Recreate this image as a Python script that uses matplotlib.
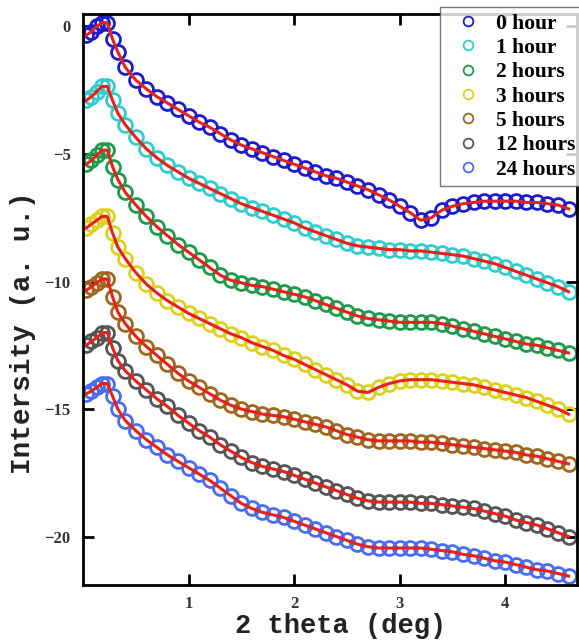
import matplotlib
matplotlib.use("Agg")
import matplotlib.pyplot as plt

# shared 2-theta positions (deg)
theta = [0.03, 0.08, 0.13, 0.18, 0.23, 0.28, 0.33, 0.4, 0.5, 0.6, 0.7, 0.8, 0.9, 1.0,
         1.1, 1.2, 1.3, 1.4, 1.5, 1.6, 1.7, 1.8, 1.9, 2.0, 2.1, 2.2, 2.3, 2.4, 2.5, 2.6,
         2.7, 2.8, 2.9, 3.0, 3.1, 3.2, 3.3, 3.4, 3.5, 3.6, 3.7, 3.8, 3.9, 4.0, 4.1, 4.2,
         4.3, 4.4, 4.5, 4.6]

h0 = [-0.35, -0.2, 0.0, 0.15, 0.15, -0.5, -1.0, -1.6, -2.1, -2.45, -2.75, -3.0, -3.25, -3.5,
      -3.75, -3.95, -4.2, -4.45, -4.65, -4.8, -4.95, -5.1, -5.25, -5.4, -5.55, -5.7, -5.85,
      -5.95, -6.1, -6.25, -6.4, -6.6, -6.8, -7.05, -7.3, -7.6, -7.5, -7.2, -7.05, -6.95,
      -6.9, -6.85, -6.85, -6.85, -6.85, -6.9, -6.9, -6.95, -7.0, -7.15]
h1 = [-2.9, -2.75, -2.55, -2.35, -2.35, -2.9, -3.4, -3.85, -4.35, -4.8, -5.15, -5.45, -5.7,
      -5.95, -6.15, -6.35, -6.55, -6.75, -6.95, -7.1, -7.25, -7.4, -7.55, -7.7, -7.9, -8.05,
      -8.2, -8.35, -8.5, -8.6, -8.65, -8.7, -8.75, -8.75, -8.8, -8.8, -8.85, -8.9, -8.95,
      -9.0, -9.1, -9.2, -9.3, -9.45, -9.6, -9.75, -9.9, -10.05, -10.2, -10.4]
h2 = [-5.4, -5.25, -5.05, -4.85, -4.85, -5.5, -6.0, -6.5, -7.0, -7.45, -7.85, -8.2, -8.55,
      -8.85, -9.15, -9.45, -9.75, -9.95, -10.05, -10.15, -10.2, -10.3, -10.4, -10.5, -10.6,
      -10.75, -10.9, -11.05, -11.2, -11.35, -11.45, -11.5, -11.55, -11.6, -11.6, -11.6,
      -11.6, -11.65, -11.75, -11.85, -11.95, -12.05, -12.15, -12.25, -12.35, -12.45, -12.5,
      -12.6, -12.7, -12.8]
h3 = [-7.9, -7.75, -7.6, -7.45, -7.45, -8.1, -8.65, -9.1, -9.65, -10.1, -10.45, -10.75, -11.0,
      -11.25, -11.45, -11.65, -11.85, -12.05, -12.2, -12.4, -12.55, -12.7, -12.9, -13.05,
      -13.25, -13.45, -13.65, -13.85, -14.05, -14.3, -14.35, -14.15, -14.0, -13.9, -13.85,
      -13.85, -13.85, -13.9, -13.95, -14.0, -14.05, -14.15, -14.25, -14.35, -14.45, -14.55,
      -14.7, -14.85, -15.0, -15.2]
h5 = [-10.35, -10.2, -10.05, -9.9, -9.9, -10.6, -11.2, -11.65, -12.15, -12.55, -12.9, -13.25,
      -13.6, -13.9, -14.15, -14.4, -14.65, -14.85, -15.0, -15.1, -15.2, -15.25, -15.3, -15.4,
      -15.5, -15.6, -15.7, -15.85, -16.0, -16.1, -16.2, -16.25, -16.25, -16.25, -16.25,
      -16.3, -16.3, -16.35, -16.4, -16.45, -16.5, -16.55, -16.6, -16.65, -16.7, -16.8,
      -16.85, -16.95, -17.05, -17.15]
h12 = [-12.5, -12.35, -12.2, -12.0, -12.0, -12.6, -13.1, -13.5, -13.9, -14.25, -14.6, -14.9,
       -15.25, -15.55, -15.85, -16.1, -16.4, -16.65, -16.9, -17.1, -17.25, -17.35, -17.45,
       -17.6, -17.75, -17.9, -18.05, -18.2, -18.35, -18.5, -18.6, -18.65, -18.65, -18.65,
       -18.65, -18.7, -18.7, -18.75, -18.8, -18.85, -18.9, -19.0, -19.1, -19.2, -19.35,
       -19.45, -19.55, -19.7, -19.85, -20.0]
h24 = [-14.4, -14.3, -14.15, -14.0, -14.0, -14.5, -15.0, -15.45, -15.85, -16.2, -16.5, -16.8,
       -17.05, -17.3, -17.55, -17.8, -18.1, -18.4, -18.7, -18.9, -19.05, -19.15, -19.25,
       -19.4, -19.55, -19.7, -19.85, -20.0, -20.15, -20.3, -20.4, -20.45, -20.45, -20.45,
       -20.45, -20.45, -20.5, -20.55, -20.6, -20.7, -20.75, -20.85, -20.95, -21.0, -21.1,
       -21.2, -21.3, -21.35, -21.45, -21.55]

labels = ["0 hour", "1 hour", "2 hours", "3 hours", "5 hours", "12 hours", "24 hours"]
series = [h0, h1, h2, h3, h5, h12, h24]
colors = ["#1c1ccc", "#33cccc", "#1f9a4a", "#dcd21e", "#a0661e", "#555555", "#4a6cf0"]
fit_color = "#e8201a"

xticks = [1, 2, 3, 4]
yticks = [0, -5, -10, -15, -20]

fig = plt.figure(figsize=(5.79, 6.43), dpi=100)
ax = fig.add_axes([83 / 579, 1 - 585 / 643, 494 / 579, 571 / 643])

handles = []
for ys, c, lab in zip(series, colors, labels):
    h, = ax.plot(theta, ys, linestyle="none", marker="o", markersize=10,
                 markerfacecolor="none", markeredgecolor=c, markeredgewidth=2.0,
                 label=lab)
    handles.append(h)
for ys in series:
    ax.plot(theta, ys, color=fit_color, linewidth=2.2)

ax.set_xlim(0, 4.68)
ax.set_ylim(-21.9, 0.49)
ax.set_xticks(xticks)
ax.set_yticks(yticks)
tick_font = {"family": "Liberation Serif", "weight": "bold", "size": 12}
ax.set_xticklabels([str(t) for t in xticks], fontdict=tick_font, color="#333333")
ax.set_yticklabels([str(t).replace("-", "\u2212") for t in yticks],
                   fontdict=tick_font, color="#333333")
ax.tick_params(direction="in", length=8, width=2, top=True, right=True)
ax.tick_params(axis="x", pad=8)
ax.tick_params(axis="y", pad=9)
for s in ax.spines.values():
    s.set_linewidth(2)

ax.set_xlabel("2 theta (deg)", fontfamily="Liberation Mono", fontsize=19.5,
              fontweight="bold", color="#222222")
ax.set_ylabel("Intersity (a. u.)", fontfamily="Liberation Mono", fontsize=20,
              fontweight="bold", color="#222222")
ax.xaxis.set_label_coords((341 - 83) / 494, (585 - 613) / 571)
ax.yaxis.set_label_coords((36 - 83) / 494, (585 - 333) / 571)

leg = fig.legend(handles=handles, loc="upper left",
                 bbox_to_anchor=(440 / 579, 1 - 7 / 643), borderaxespad=0,
                 prop={"family": "Liberation Serif", "weight": "bold", "size": 15.5},
                 frameon=True, fancybox=False, edgecolor="#555555",
                 labelspacing=0.2, handletextpad=0.3, handlelength=2.0,
                 borderpad=0.3, markerscale=0.7)
leg.get_frame().set_linewidth(1.0)
for lh in leg.legend_handles:
    lh.set_markeredgewidth(1.3)

fig.savefig("out.png", dpi=100)
